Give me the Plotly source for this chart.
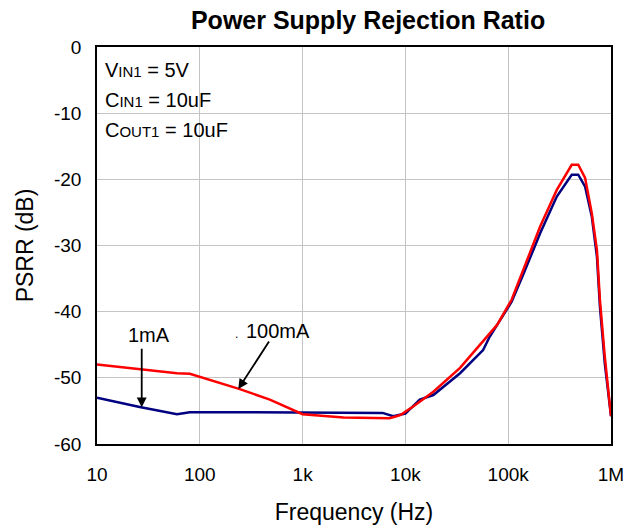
import plotly.graph_objects as go

# Data
freq_1mA = [10, 26, 60, 80, 200, 1000, 3000, 6000, 7600, 10000, 13800, 18700, 34000, 57000,
            66000, 78000, 108000, 140000, 205000, 297000, 415000, 480000, 560000, 650000,
            730000, 780000, 870000, 1000000]
psrr_1mA = [-53.0, -54.4, -55.5, -55.2, -55.2, -55.2, -55.2, -55.3, -55.8, -55.4, -53.3, -52.6,
            -49.3, -45.8, -43.8, -42.0, -38.5, -34.4, -28.1, -22.6, -19.3, -19.3, -21.1, -25.6,
            -31.7, -39.2, -47.8, -55.8]

freq_100mA = [10, 26, 60, 80, 245, 480, 880, 1000, 2500, 7000, 8200, 9000, 12000, 18700, 34000,
              57000, 78000, 108000, 140000, 205000, 297000, 415000, 480000, 560000, 650000,
              730000, 780000, 870000, 1000000]
psrr_100mA = [-48.0, -48.7, -49.3, -49.4, -51.7, -53.3, -55.2, -55.5, -56.0, -56.1, -55.8, -55.6,
              -54.3, -52.1, -48.5, -44.5, -42.0, -38.2, -33.7, -27.1, -21.6, -17.8, -17.8, -19.8,
              -25.1, -30.7, -38.2, -46.8, -55.8]

x_tickvals = [10, 100, 1000, 10000, 100000, 1000000]
x_ticktext = ["10", "100", "1k", "10k", "100k", "1M"]
y_tickvals = [0, -10, -20, -30, -40, -50, -60]
y_ticktext = ["0", "-10", "-20", "-30", "-40", "-50", "-60"]

FONT = "Liberation Sans, Arial, sans-serif"

fig = go.Figure()
fig.add_trace(go.Scatter(x=freq_1mA, y=psrr_1mA, mode="lines", name="1mA",
                         line=dict(color="#000080", width=2.5)))
fig.add_trace(go.Scatter(x=freq_100mA, y=psrr_100mA, mode="lines", name="100mA",
                         line=dict(color="#ff0000", width=2.5)))

sm = '<span style="font-size:15px">'
tf = dict(size=20, color="black", family=FONT)
annotations = [
    dict(x=0.012, y=0.942, xref="paper", yref="paper", xanchor="left", yanchor="middle",
         text="V" + sm + "IN1</span> = 5V", showarrow=False, font=tf),
    dict(x=0.012, y=0.866, xref="paper", yref="paper", xanchor="left", yanchor="middle",
         text="C" + sm + "IN1</span> = 10uF", showarrow=False, font=tf),
    dict(x=0.012, y=0.791, xref="paper", yref="paper", xanchor="left", yanchor="middle",
         text="C" + sm + "OUT1</span> = 10uF", showarrow=False, font=tf),
    # 1mA label + arrow
    dict(x=1.435, y=-54.45, xref="x", yref="y", ax=0, ay=-60,
         text="", showarrow=True, arrowhead=2, arrowsize=1.1, arrowwidth=1.8, arrowcolor="black"),
    dict(x=1.506, y=-43.5, xref="x", yref="y", text="1mA", showarrow=False, font=tf),
    # 100mA label + arrow
    dict(x=2.3745, y=-51.69, xref="x", yref="y", ax=31.7, ay=-49,
         text="", showarrow=True, arrowhead=2, arrowsize=1.1, arrowwidth=1.8, arrowcolor="black"),
    dict(x=2.756, y=-42.9, xref="x", yref="y", text="100mA", showarrow=False, font=tf),
    dict(x=2.359, y=-43.3, xref="x", yref="y", text=".", showarrow=False,
         font=dict(size=12, color="black", family=FONT)),
]

fig.update_layout(
    width=639, height=532,
    margin=dict(l=97, r=28, t=47, b=88),
    paper_bgcolor="white", plot_bgcolor="white",
    showlegend=False,
    title=dict(text="<b>Power Supply Rejection Ratio</b>", x=0.576, xanchor="center",
               y=0.962, yanchor="middle", font=dict(size=25, color="black", family=FONT)),
    font=dict(family=FONT, color="black"),
    annotations=annotations,
)
fig.update_xaxes(type="log", range=[1, 6], tickvals=x_tickvals, ticktext=x_ticktext,
                 showgrid=True, gridcolor="#c4c4c4", gridwidth=1,
                 showline=True, linecolor="black", linewidth=1.5, mirror=True,
                 ticks="", ticklabelstandoff=12, tickfont=dict(size=19, family=FONT, color="black"),
                 title=dict(text="Frequency (Hz)", font=dict(size=23, family=FONT, color="black"), standoff=20),
                 zeroline=False)
fig.update_yaxes(range=[-60, 0], tickvals=y_tickvals, ticktext=y_ticktext,
                 showgrid=True, gridcolor="#c4c4c4", gridwidth=1,
                 showline=True, linecolor="black", linewidth=1.5, mirror=True,
                 ticks="", ticklabelstandoff=10, tickfont=dict(size=19, family=FONT, color="black"),
                 title=dict(text="PSRR (dB)", font=dict(size=23, family=FONT, color="black"), standoff=14),
                 zeroline=False)

fig.write_html("out.html", config={"displayModeBar": False},
               post_script="document.body.style.margin='0px';")
